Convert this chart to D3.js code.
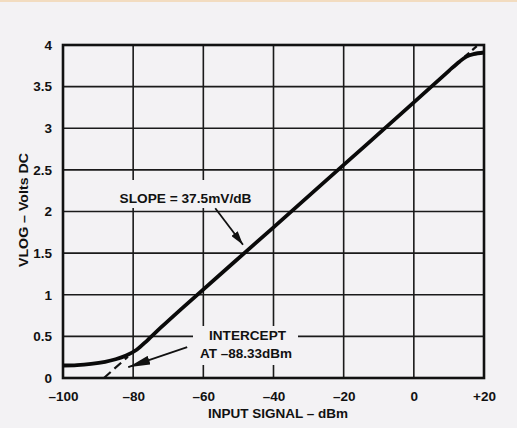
<!DOCTYPE html>
<html>
<head>
<meta charset="utf-8">
<script src="https://cdn.jsdelivr.net/npm/d3@7/dist/d3.min.js"></script>
<style>
  html, body { margin: 0; padding: 0; background: #f3f2f4; }
  svg { display: block; }
  text { font-family: "Liberation Sans", Arial, sans-serif; font-weight: bold; fill: #111; }
</style>
</head>
<body>
<svg id="chart" width="517" height="428"></svg>
<script>
// ---- data ----
const xTicks = [-100, -80, -60, -40, -20, 0, 20];
const xTickLabels = ["\u2013100", "\u201380", "\u201360", "\u201340", "\u201320", "0", "+20"];
const yTicks = [0, 0.5, 1, 1.5, 2, 2.5, 3, 3.5, 4];
const yTickLabels = ["0", "0.5", "1", "1.5", "2", "2.5", "3", "3.5", "4"];

// measured VLOG curve (dBm, volts)
const curveX = [-100, -96, -92, -88, -85, -82, -79, -76, -72, -66, -40, -20, 0, 10, 13, 15, 17, 20];
const curveY = [0.15, 0.155, 0.17, 0.195, 0.225, 0.27, 0.34, 0.45, 0.61, 0.84, 1.81, 2.56, 3.31, 3.69, 3.80, 3.86, 3.89, 3.91];

// ideal straight-line extensions (dashed)
const fitLowX = [-88.33, -81.5];
const fitLowY = [0, 0.256];
const fitHighX = [14.5, 18.33];
const fitHighY = [3.86, 4.0];

// annotations
const slopeLabel = "SLOPE = 37.5mV/dB";
const slopeArrowX = [-56.6, -48.7];
const slopeArrowY = [2.04, 1.60];
const interceptLabel = ["INTERCEPT", "AT \u201388.33dBm"];
const interceptArrowX = [-64.6, -81.4];
const interceptArrowY = [0.37, 0.13];

const xTitle = "INPUT SIGNAL \u2013 dBm";
const yTitle = "VLOG \u2013 Volts DC";

// ---- layout ----
const svg = d3.select("#chart");
const bg = "#f3f2f4";
const L = 63, R = 484, T = 45, B = 378;

const x = d3.scaleLinear().domain([-100, 20]).range([L, R]);
const y = d3.scaleLinear().domain([0, 4]).range([B, T]);

svg.append("rect").attr("width", 517).attr("height", 428).attr("fill", bg);
svg.append("rect").attr("width", 517).attr("height", 2).attr("fill", "#f2dcc0");

const defs = svg.append("defs");
function marker(id, len, wid) {
  defs.append("marker").attr("id", id)
    .attr("viewBox", `0 0 ${len} ${wid}`)
    .attr("refX", len).attr("refY", wid / 2)
    .attr("markerWidth", len).attr("markerHeight", wid)
    .attr("markerUnits", "userSpaceOnUse")
    .attr("orient", "auto")
    .append("path").attr("d", `M0,0 L${len},${wid/2} L0,${wid} Z`).attr("fill", "#111");
}
marker("arrS", 14, 8);
marker("arrI", 22, 9);

// grid
const grid = svg.append("g");
grid.selectAll("line.v").data(xTicks.slice(1, -1)).join("line")
  .attr("x1", d => x(d)).attr("x2", d => x(d)).attr("y1", T).attr("y2", B)
  .attr("stroke", "#1a1a1a").attr("stroke-width", 1.6);
grid.selectAll("line.h").data(yTicks.slice(1, -1)).join("line")
  .attr("y1", d => y(d)).attr("y2", d => y(d)).attr("x1", L).attr("x2", R)
  .attr("stroke", "#1a1a1a").attr("stroke-width", 1.6);

// label knockout boxes
svg.append("rect").attr("x", 117).attr("y", 180).attr("width", 137).attr("height", 28).attr("fill", bg);
svg.append("rect").attr("x", 193).attr("y", 326).attr("width", 105).attr("height", 39).attr("fill", bg);

// frame
svg.append("rect").attr("x", L).attr("y", T).attr("width", R - L).attr("height", B - T)
  .attr("fill", "none").attr("stroke", "#111").attr("stroke-width", 2.6);

// axes (labels only)
const xAxis = d3.axisBottom(x).tickValues(xTicks).tickSize(0).tickPadding(13)
  .tickFormat((d, i) => xTickLabels[i]);
const gx = svg.append("g").attr("transform", `translate(0,${B})`).call(xAxis);
gx.select(".domain").remove();
gx.selectAll("text").attr("font-size", 13.5).style("font-family", "Liberation Sans, Arial, sans-serif").style("font-weight", "bold").attr("fill", "#111");

const yAxis = d3.axisLeft(y).tickValues(yTicks).tickSize(0).tickPadding(11)
  .tickFormat((d, i) => yTickLabels[i]);
const gy = svg.append("g").attr("transform", `translate(${L},0)`).call(yAxis);
gy.select(".domain").remove();
gy.selectAll("text").attr("font-size", 13.5).style("font-family", "Liberation Sans, Arial, sans-serif").style("font-weight", "bold").attr("fill", "#111");

// dashed fits
const lineGen = d3.line().x(d => x(d[0])).y(d => y(d[1]));
svg.append("path").datum(d3.zip(fitLowX, fitLowY)).attr("d", lineGen)
  .attr("fill", "none").attr("stroke", "#111").attr("stroke-width", 2.2).attr("stroke-dasharray", "9,5");
svg.append("path").datum(d3.zip(fitHighX, fitHighY)).attr("d", lineGen)
  .attr("fill", "none").attr("stroke", "#111").attr("stroke-width", 2.2).attr("stroke-dasharray", "6,4");

// measured curve
const curveGen = d3.line().x(d => x(d[0])).y(d => y(d[1])).curve(d3.curveCatmullRom);
svg.append("path").datum(d3.zip(curveX, curveY)).attr("d", curveGen)
  .attr("fill", "none").attr("stroke", "#0a0a0a").attr("stroke-width", 3.8).attr("stroke-linejoin", "round");

// annotations
svg.append("text").attr("x", 185.5).attr("y", 198).attr("text-anchor", "middle")
  .attr("dominant-baseline", "central").attr("font-size", 13)
  .attr("textLength", 132).attr("lengthAdjust", "spacingAndGlyphs").text(slopeLabel);
svg.append("line")
  .attr("x1", x(slopeArrowX[0])).attr("y1", y(slopeArrowY[0]))
  .attr("x2", x(slopeArrowX[1])).attr("y2", y(slopeArrowY[1]))
  .attr("stroke", "#111").attr("stroke-width", 1.8).attr("marker-end", "url(#arrS)");

svg.append("text").attr("x", 247.5).attr("y", 335).attr("text-anchor", "middle")
  .attr("dominant-baseline", "central").attr("font-size", 13)
  .attr("textLength", 77).attr("lengthAdjust", "spacingAndGlyphs").text(interceptLabel[0]);
svg.append("text").attr("x", 246).attr("y", 353).attr("text-anchor", "middle")
  .attr("dominant-baseline", "central").attr("font-size", 13)
  .attr("textLength", 92).attr("lengthAdjust", "spacingAndGlyphs").text(interceptLabel[1]);
svg.append("line")
  .attr("x1", x(interceptArrowX[0])).attr("y1", y(interceptArrowY[0]))
  .attr("x2", x(interceptArrowX[1])).attr("y2", y(interceptArrowY[1]))
  .attr("stroke", "#111").attr("stroke-width", 1.8).attr("marker-end", "url(#arrI)");

// titles
svg.append("text").attr("x", 278).attr("y", 413).attr("text-anchor", "middle")
  .attr("dominant-baseline", "central").attr("font-size", 13)
  .attr("textLength", 140).attr("lengthAdjust", "spacingAndGlyphs").text(xTitle);
svg.append("text").attr("transform", "translate(23,210) rotate(-90)").attr("text-anchor", "middle")
  .attr("dominant-baseline", "central").attr("font-size", 13)
  .attr("textLength", 114).attr("lengthAdjust", "spacingAndGlyphs").text(yTitle);
</script>
</body>
</html>
